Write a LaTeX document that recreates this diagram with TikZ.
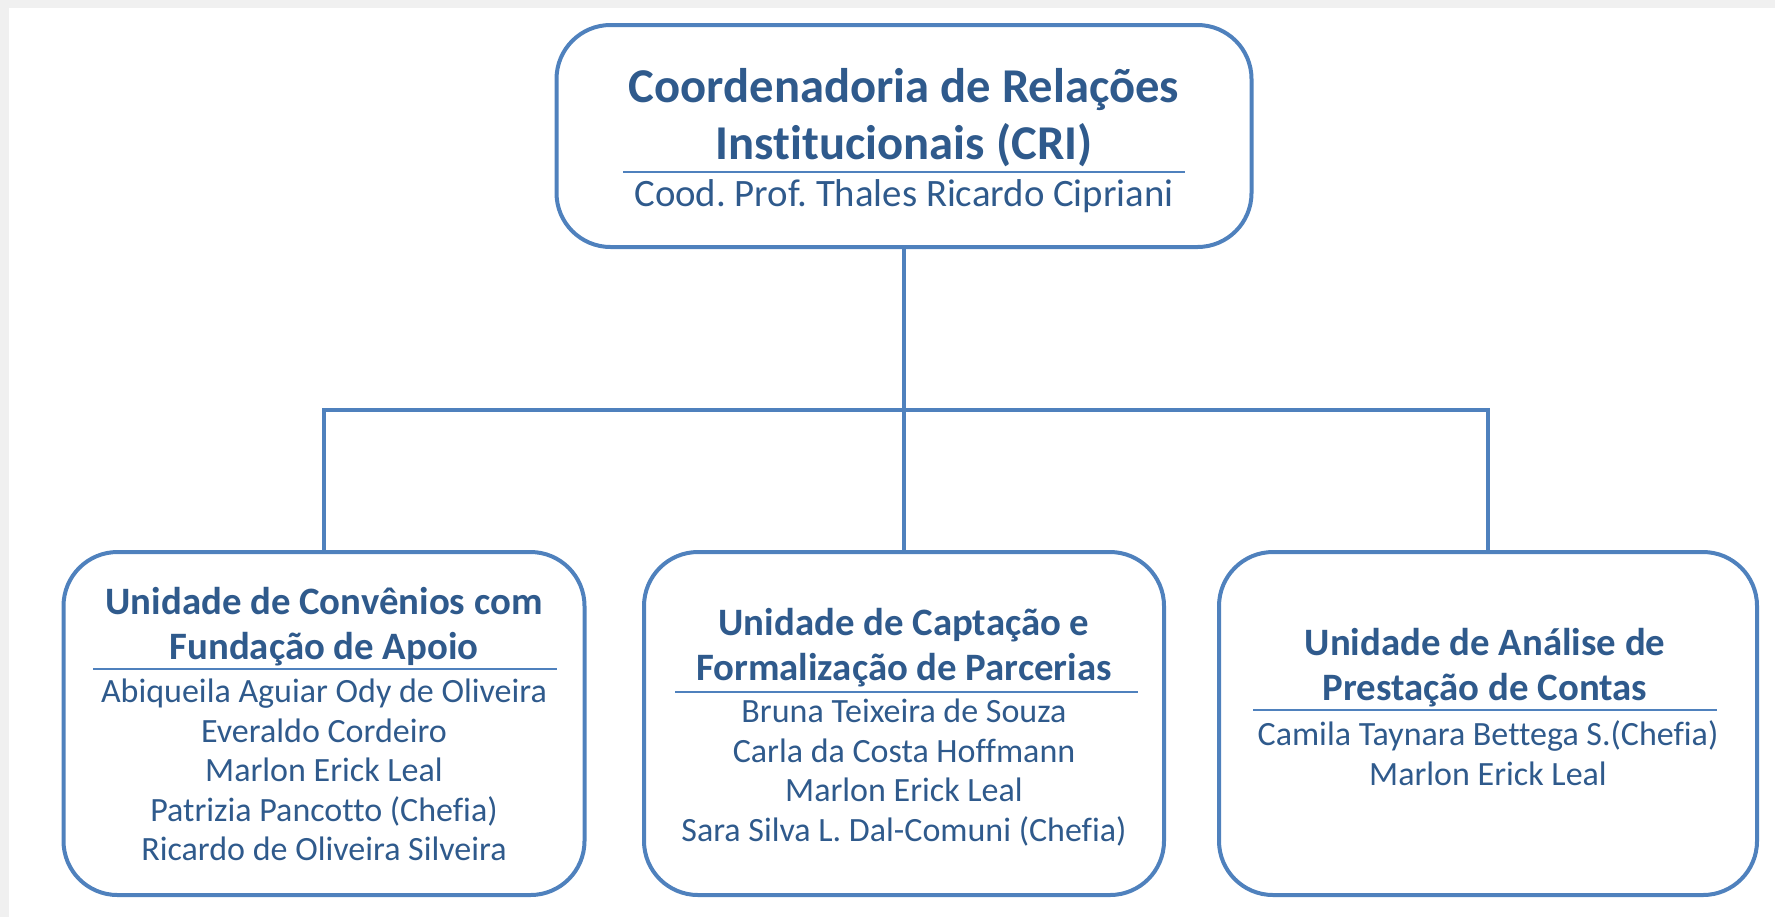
\documentclass[tikz,border=0pt]{standalone}
\usepackage{fontspec}
\setmainfont{Carlito}[Ligatures=NoCommon]
\usetikzlibrary{positioning}
\frenchspacing

\definecolor{boxblue}{HTML}{4F81BD}
\definecolor{textblue}{HTML}{2F5A8C}

\begin{document}
\begin{tikzpicture}[x=0.5pt,y=-0.5pt,
	unit/.style={draw=boxblue,line width=2pt,rounded corners=27pt,minimum height=171.5pt},
	headtext/.style={text=textblue,align=center,font=\bfseries\fontsize{19.4}{22.6}\selectfont,inner sep=0pt},
	nametext/.style={text=textblue,align=center,font=\fontsize{17}{19.8}\selectfont,inner sep=0pt},
	sep/.style={draw=boxblue,line width=0.6pt},
	link/.style={draw=boxblue,line width=2pt}]
	\useasboundingbox (0,0) rectangle (1775,917);
	\fill[gray!12] (0,0) rectangle (1775,8);
	\fill[gray!12] (0,0) rectangle (9,917);
	% coordinator
	\node[unit,minimum width=347.5pt,minimum height=111pt] (CRI) at (904,136) {};
	\node[headtext,font=\bfseries\fontsize{24.3}{28.5}\selectfont] (CRIhead) at (904,118) {Coordenadoria de Relações\\Institucionais (CRI)};
	\node[nametext,font=\fontsize{19.4}{22.6}\selectfont] (CRIname) at (904,196.5) {Cood. Prof. Thales Ricardo Cipriani};
	\draw[sep] (623,172) coordinate (CRIa) -- (1185,172) coordinate (CRIb);
	% units
	\node[unit,minimum width=260.5pt] (U1) at (324,723.5) {};
	\node[unit,minimum width=260pt] (U2) at (904,723.5) {};
	\node[unit,minimum width=269pt] (U3) at (1488,723.5) {};
	\node[headtext] (U1head) at (324,627) {Unidade de Convênios com\\Fundação de Apoio};
	\node[headtext] (U2head) at (904,647.5) {Unidade de Captação e\\Formalização de Parcerias};
	\node[headtext] (U3head) at (1485,668) {Unidade de Análise de\\Prestação de Contas};
	\draw[sep] (93,669) coordinate (U1a) -- (557,669) coordinate (U1b);
	\draw[sep] (675,692) coordinate (U2a) -- (1138,692) coordinate (U2b);
	\draw[sep] (1253,710) coordinate (U3a) -- (1717,710) coordinate (U3b);
	\node[nametext] (U1names) at (324,770) {Abiqueila Aguiar Ody de Oliveira\\Everaldo Cordeiro\\Marlon Erick Leal\\Patrizia Pancotto (Chefia)\\Ricardo de Oliveira Silveira};
	\node[nametext] (U2names) at (904,772.5) {Bruna Teixeira de Souza\\Carla da Costa Hoffmann\\Marlon Erick Leal\\Sara Silva L. Dal-Comuni (Chefia)};
	\node[nametext] (U3names) at (1488,753) {Camila Taynara Bettega S.(Chefia)\\Marlon Erick Leal};
	% connectors
	\coordinate (hub) at (904,410);
	\draw[link] (CRI) -- (U2);
	\draw[link] (U1.north) |- (hub) -| (U3.north);
\end{tikzpicture}
\end{document}
